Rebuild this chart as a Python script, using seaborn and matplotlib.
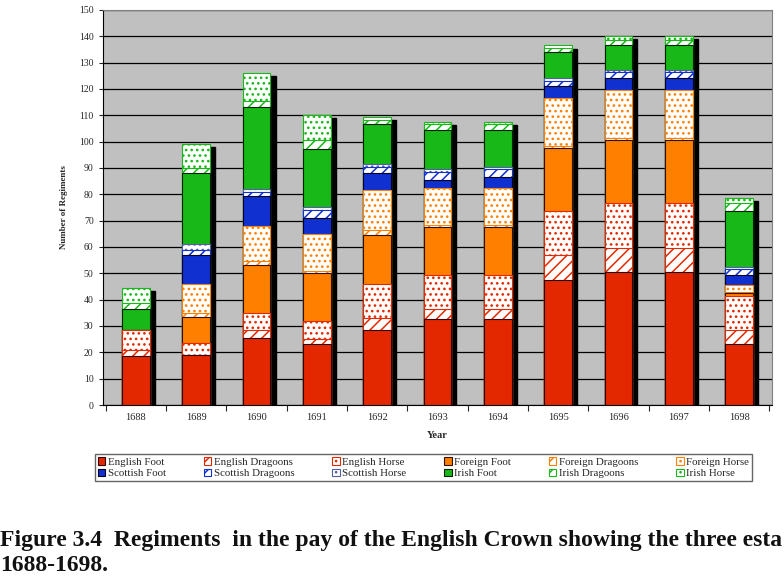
import numpy as np
import pandas as pd
import matplotlib
matplotlib.use("Agg")
import matplotlib.pyplot as plt
import seaborn as sns

years = ["1688", "1689", "1690", "1691", "1692", "1693", "1694", "1695", "1696", "1697", "1698"]

series_names = ["English Foot", "English Dragoons", "English Horse",
                "Foreign Foot", "Foreign Dragoons", "Foreign Horse",
                "Scottish Foot", "Scottish Dragoons", "Scottish Horse",
                "Irish Foot", "Irish Dragoons", "Irish Horse"]

english_foot = [18.5, 19, 25.5, 23, 28.5, 32.5, 32.5, 47.5, 50.5, 50.5, 23]
english_dragoons = [2.5, 0, 3, 2, 4.5, 4, 4, 9.5, 9, 9, 5.5]
english_horse = [7.3, 4.5, 6.5, 7, 13, 13, 13, 16.5, 17, 17, 13]
foreign_foot = [0, 10, 18, 18, 18.5, 18, 18, 24, 24, 24, 1]
foreign_dragoons = [0, 1.5, 1.5, 1, 2, 1, 1, 1, 1, 1, 0.5]
foreign_horse = [0, 11, 13.5, 14, 15, 14, 14, 18, 18, 18, 2.5]
scottish_foot = [0, 11, 11.5, 6, 6.5, 3, 4, 4.5, 4.5, 4.5, 4]
scottish_dragoons = [0, 2, 1.5, 3, 2.5, 3, 3, 2, 2.5, 2.5, 2]
scottish_horse = [0, 2, 1, 1, 1, 1, 1, 1, 0.5, 0.5, 1]
irish_foot = [8, 27, 31, 22, 15, 15, 14, 10, 9.5, 9.5, 21]
irish_dragoons = [2.3, 2, 2.5, 3.5, 1.5, 2, 2, 1.5, 2, 2, 3]
irish_horse = [5.9, 9, 10.5, 9.5, 1.5, 1, 1, 1, 1.5, 1.5, 2]

values = [english_foot, english_dragoons, english_horse,
          foreign_foot, foreign_dragoons, foreign_horse,
          scottish_foot, scottish_dragoons, scottish_horse,
          irish_foot, irish_dragoons, irish_horse]

red, orange, blue, green = "#E32800", "#FF8000", "#1030D0", "#18B818"
# (face, edge, hatch) per series
styles = [(red, "#300000", None), ("white", red, "///"), ("white", red, "..."),
          (orange, "#301000", None), ("white", orange, "///"), ("white", orange, "..."),
          (blue, "#000020", None), ("white", blue, "///"), ("white", "#5060A0", "..."),
          (green, "#002000", None), ("white", green, "///"), ("white", green, "...")]

sns.set_style("white")
plt.rcParams["font.family"] = ["Liberation Serif", "DejaVu Serif"]
plt.rcParams["hatch.linewidth"] = 1.1

df = pd.DataFrame(dict(zip(series_names, values)), index=years)
cum = df.cumsum(axis=1)

fig = plt.figure(figsize=(7.84, 5.79), dpi=100)
ax = fig.add_axes([0.131, 0.3005, 0.854, 0.6825])
ax.set_facecolor("#C0C0C0")

bar_w = 0.46
# shadow behind the stacks
sns.barplot(x=years, y=cum.iloc[:, -1].values - 1.2, color="black", width=bar_w,
            saturation=1, errorbar=None, ax=ax, zorder=2)
for p in ax.patches:
    p.set_x(p.get_x() + 0.085)
    p.set_edgecolor("black")

for i in range(len(series_names) - 1, -1, -1):
    face, edge, hatch = styles[i]
    sns.barplot(x=years, y=cum.iloc[:, i].values, color=face, width=bar_w,
                saturation=1, errorbar=None, ax=ax, edgecolor=edge, linewidth=0.8,
                hatch=hatch, label=series_names[i], zorder=3)

handles, labels = ax.get_legend_handles_labels()
if ax.get_legend() is not None:
    ax.get_legend().remove()

ax.set_ylim(0, 150)
ax.set_xlim(-0.55, 10.55)
ax.set_yticks(np.arange(0, 151, 10))
ax.yaxis.grid(True, color="black", linewidth=0.9)
ax.set_axisbelow(True)
for s in ["top", "right"]:
    ax.spines[s].set_color("#808080")
for s in ["left", "bottom"]:
    ax.spines[s].set_color("black")
ax.tick_params(axis="y", labelsize=7, length=3, direction="out", left=True, width=0.8)
ax.tick_params(axis="x", which="major", labelsize=7.5, length=0, pad=6)
ax.set_xticks(np.arange(-0.5, 11, 1), minor=True)
ax.tick_params(axis="x", which="minor", length=4, direction="out", bottom=True, width=0.8)
ax.set_xlabel("Year", fontsize=7.5, fontweight="bold", labelpad=6)
ax.set_ylabel("Number of Regiments", fontsize=6.5, fontweight="bold", labelpad=8)

lookup = dict(zip(labels, handles))
order = []
for c in range(6):
    order += [series_names[c], series_names[c + 6]]
fig.legend([lookup[n] for n in order], order, ncol=6, loc="lower left",
           bbox_to_anchor=(0.121, 0.169, 0.838, 0.05), mode="expand",
           fontsize=7.8, frameon=True, fancybox=False, edgecolor="#404040",
           handlelength=0.7, handleheight=0.7, handletextpad=0.25,
           borderpad=0.25, labelspacing=0.2, columnspacing=0.5, borderaxespad=0)

# caption, as far as it is visible in the reference
fig.text(0.0, 1 - 546 / 579,
         "Figure 3.4  Regiments  in the pay of the English Crown showing the three esta",
         fontsize=17, fontweight="bold", va="baseline", color="#111111")
fig.text(0.0, 1 - 571 / 579, "1688-1698.", fontsize=17, fontweight="bold",
         va="baseline", color="#111111")

fig.savefig("out.png", dpi=100)
